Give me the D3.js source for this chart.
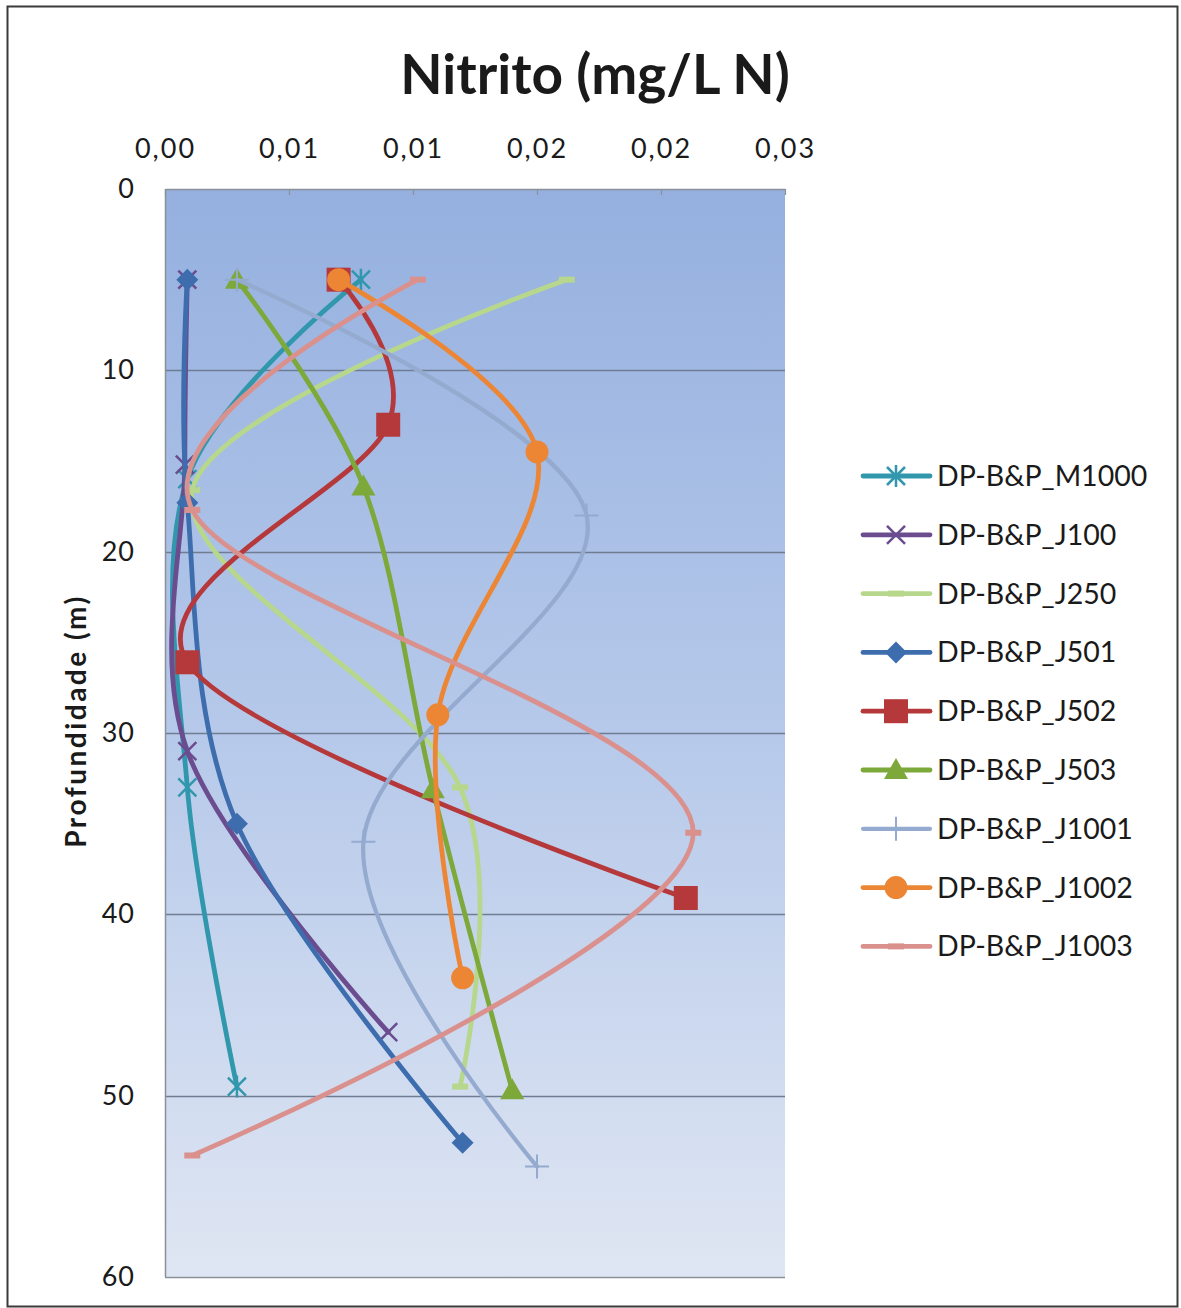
<!DOCTYPE html>
<html>
<head>
<meta charset="utf-8">
<script src="https://cdn.jsdelivr.net/npm/d3@7"></script>
<style>
  html, body { margin: 0; padding: 0; background: #fff; }
  svg { display: block; }
  text { font-family: Lato, "Open Sans", sans-serif; fill: #1a1a1a; }
</style>
</head>
<body>
<svg id="chart" width="1181" height="1308"></svg>
<script>
// Nitrite profiles (mg/L N) against depth (m), one series per station
const seriesNames = ["DP-B&P_M1000", "DP-B&P_J100", "DP-B&P_J250", "DP-B&P_J501",
  "DP-B&P_J502", "DP-B&P_J503", "DP-B&P_J1001", "DP-B&P_J1002", "DP-B&P_J1003"];

const depthM1000 = [5, 16, 33, 49.5];
const nitM1000 = [0.0079, 0.0009, 0.0009, 0.0029];
const depthJ100 = [5, 15.2, 31, 46.5];
const nitJ100 = [0.0009, 0.0008, 0.0009, 0.0090];
const depthJ250 = [5, 16.6, 33, 49.5];
const nitJ250 = [0.0162, 0.0011, 0.0119, 0.0119];
const depthJ501 = [5, 17.3, 35, 52.6];
const nitJ501 = [0.0009, 0.0009, 0.0029, 0.0120];
const depthJ502 = [5, 13, 26.1, 39.1];
const nitJ502 = [0.0070, 0.0090, 0.0009, 0.0210];
const depthJ503 = [5, 16.4, 33.1, 49.7];
const nitJ503 = [0.0029, 0.0080, 0.0108, 0.0140];
const depthJ1001 = [5, 18, 36, 53.9];
const nitJ1001 = [0.0029, 0.0170, 0.0080, 0.0150];
const depthJ1002 = [5, 14.5, 29, 43.5];
const nitJ1002 = [0.0070, 0.0150, 0.0110, 0.0120];
const depthJ1003 = [5, 17.7, 35.5, 53.3];
const nitJ1003 = [0.0102, 0.0011, 0.0213, 0.0011];

const xTickValues = [0, 0.005, 0.010, 0.015, 0.020, 0.025];
const xTickLabels = ["0,00", "0,01", "0,01", "0,02", "0,02", "0,03"];
const yTickValues = [0, 10, 20, 30, 40, 50, 60];

const depths = [depthM1000, depthJ100, depthJ250, depthJ501, depthJ502, depthJ503, depthJ1001, depthJ1002, depthJ1003];
const nitrite = [nitM1000, nitJ100, nitJ250, nitJ501, nitJ502, nitJ503, nitJ1001, nitJ1002, nitJ1003];

// styling per series
const colors = ["#3197AC", "#6B4C8F", "#B6D78C", "#3E6DAE", "#B5383B", "#7DA83A", "#94AACF", "#EC8634", "#DA918E"];
const markers = ["asterisk", "x", "dash", "diamond", "square", "triangle", "plus", "circle", "dash"];
const widths = [4.8, 4.8, 4.8, 4.8, 4.8, 4.8, 4.2, 4.8, 4.8];

const series = seriesNames.map((name, i) => ({
  name, color: colors[i], marker: markers[i], width: widths[i],
  points: depths[i].map((d, j) => ({ depth: d, value: nitrite[i][j] }))
}));

const svg = d3.select("#chart");
const W = 1181, H = 1308;

// outer chart frame
svg.append("rect").attr("x", 0).attr("y", 0).attr("width", W).attr("height", H).attr("fill", "#fff");
svg.append("rect").attr("x", 7.5).attr("y", 6.5).attr("width", 1170).attr("height", 1300)
  .attr("fill", "none").attr("stroke", "#3a3a3a").attr("stroke-width", 2);

const plot = { left: 165, right: 785, top: 189, bottom: 1277 };
const x = d3.scaleLinear().domain([0, 0.025]).range([plot.left, plot.right]);
const y = d3.scaleLinear().domain([0, 60]).range([plot.top, plot.bottom]);

// plot-area gradient fill
const defs = svg.append("defs");
const grad = defs.append("linearGradient").attr("id", "plotBg")
  .attr("x1", 0).attr("y1", 0).attr("x2", 0).attr("y2", 1);
grad.append("stop").attr("offset", "0%").attr("stop-color", "#95B0DF");
grad.append("stop").attr("offset", "50%").attr("stop-color", "#B6C9EA");
grad.append("stop").attr("offset", "100%").attr("stop-color", "#DFE6F3");

svg.append("rect").attr("x", plot.left).attr("y", plot.top)
  .attr("width", plot.right - plot.left).attr("height", plot.bottom - plot.top)
  .attr("fill", "url(#plotBg)");

// horizontal gridlines
svg.append("g").selectAll("line").data(yTickValues.filter(v => v > 0 && v < 60)).join("line")
  .attr("x1", plot.left).attr("x2", plot.right)
  .attr("y1", d => Math.round(y(d)) + 0.5).attr("y2", d => Math.round(y(d)) + 0.5)
  .attr("stroke", "#6F7C92").attr("stroke-width", 1.3);

// plot borders (left and bottom)
svg.append("line").attr("x1", plot.left + 0.5).attr("x2", plot.left + 0.5)
  .attr("y1", plot.top).attr("y2", plot.bottom).attr("stroke", "#8A8F99").attr("stroke-width", 1.5);
svg.append("line").attr("x1", plot.left).attr("x2", plot.right)
  .attr("y1", plot.bottom + 0.5).attr("y2", plot.bottom + 0.5).attr("stroke", "#8A8F99").attr("stroke-width", 1.5);

// top value axis
const xAxis = d3.axisTop(x).tickValues(xTickValues)
  .tickFormat((d, i) => xTickLabels[i]).tickSizeInner(-6).tickSizeOuter(0).tickPadding(31);
const gx = svg.append("g").attr("transform", `translate(0,${plot.top})`).call(xAxis);
gx.select(".domain").attr("stroke", "#8A8F99").attr("stroke-width", 1.5);
gx.selectAll(".tick line").attr("stroke", "#8A8F99").attr("stroke-width", 1.2);
gx.selectAll(".tick text").attr("font-size", 27).attr("letter-spacing", 2)
  .attr("font-family", "Lato, sans-serif").attr("fill", "#1a1a1a");

// left depth axis
const yAxis = d3.axisLeft(y).tickValues(yTickValues).tickSize(0).tickPadding(30);
const gy = svg.append("g").attr("transform", `translate(${plot.left},0)`).call(yAxis);
gy.select(".domain").remove();
gy.selectAll(".tick text").attr("font-size", 27).attr("letter-spacing", 1)
  .attr("font-family", "Lato, sans-serif").attr("fill", "#1a1a1a");

// titles
svg.append("text").attr("x", 595).attr("y", 94).attr("text-anchor", "middle")
  .attr("font-size", 55).attr("font-weight", "bold").text("Nitrito (mg/L N)");
svg.append("text").attr("transform", "translate(86,721) rotate(-90)").attr("text-anchor", "middle")
  .attr("font-size", 28).attr("font-weight", "bold").attr("letter-spacing", 2.5).text("Profundidade (m)");

// marker shapes
function drawMarker(g, type, color, cx, cy) {
  const m = g.append("g").attr("transform", `translate(${cx},${cy})`);
  switch (type) {
    case "asterisk":
      m.append("path").attr("d", "M-9,-9L9,9M-9,9L9,-9M0,-11L0,11")
        .attr("stroke", color).attr("stroke-width", 2.5).attr("fill", "none");
      break;
    case "x":
      m.append("path").attr("d", "M-9,-9L9,9M-9,9L9,-9")
        .attr("stroke", color).attr("stroke-width", 2.5).attr("fill", "none");
      break;
    case "plus":
      m.append("path").attr("d", "M-12,0L12,0M0,-12L0,12")
        .attr("stroke", color).attr("stroke-width", 2).attr("fill", "none");
      break;
    case "dash":
      m.append("rect").attr("x", -8).attr("y", -3).attr("width", 16).attr("height", 6).attr("fill", color);
      break;
    case "diamond":
      m.append("path").attr("d", "M0,-11L11,0L0,11L-11,0Z").attr("fill", color);
      break;
    case "square":
      m.append("rect").attr("x", -12).attr("y", -12).attr("width", 24).attr("height", 24).attr("fill", color);
      break;
    case "triangle":
      m.append("path").attr("d", "M0,-12L12,9L-12,9Z").attr("fill", color);
      break;
    case "circle":
      m.append("circle").attr("r", 11.5).attr("fill", color);
      break;
  }
}

// smoothed profile lines
const line = d3.line().x(d => x(d.value)).y(d => y(d.depth)).curve(d3.curveCardinal.tension(0));
const gSeries = svg.append("g");
series.forEach(s => {
  const g = gSeries.append("g");
  g.append("path").attr("d", line(s.points)).attr("fill", "none")
    .attr("stroke", s.color).attr("stroke-width", s.width).attr("stroke-linecap", "round");
  s.points.forEach(p => drawMarker(g, s.marker, s.color, x(p.value), y(p.depth)));
});

// legend
const legend = svg.append("g");
series.forEach((s, i) => {
  const ly = 476 + i * 58.8;
  const g = legend.append("g");
  g.append("line").attr("x1", 863).attr("x2", 930).attr("y1", ly).attr("y2", ly)
    .attr("stroke", s.color).attr("stroke-width", s.width).attr("stroke-linecap", "round");
  drawMarker(g, s.marker, s.color, 896, ly);
  g.append("text").attr("x", 937).attr("y", ly + 10).attr("font-size", 28.5).text(s.name);
});
</script>
</body>
</html>
